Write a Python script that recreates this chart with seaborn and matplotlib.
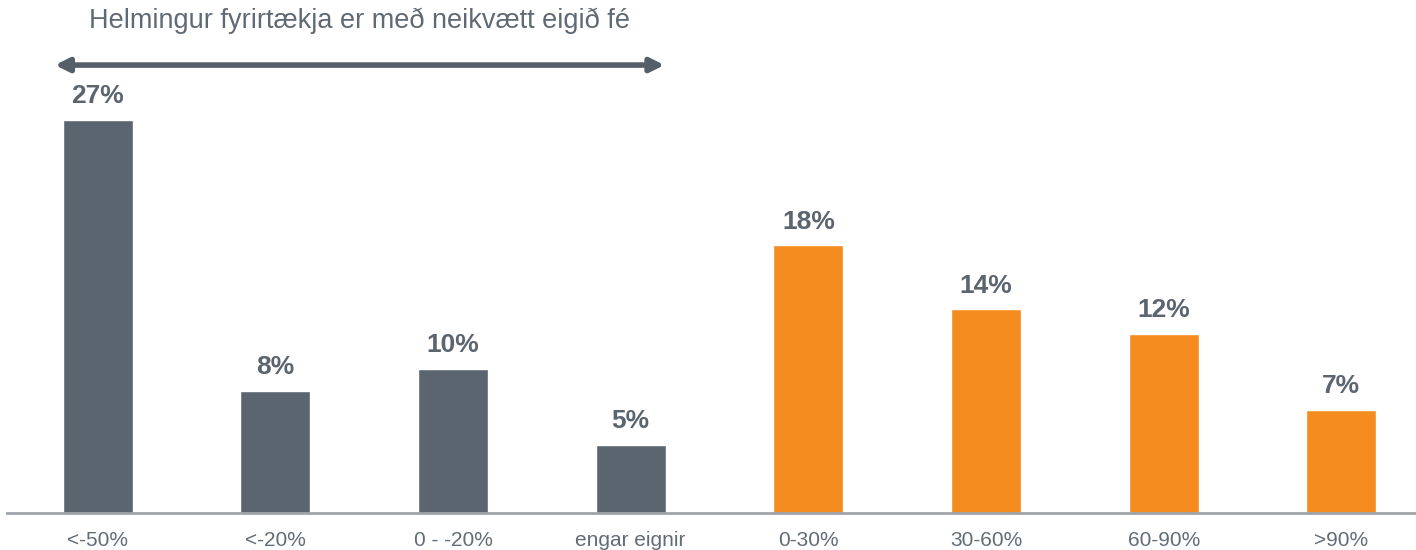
import matplotlib
matplotlib.use("Agg")
import matplotlib.pyplot as plt
import seaborn as sns
import pandas as pd

categories = ["<-50%", "<-20%", "0 - -20%", "engar eignir", "0-30%", "30-60%", "60-90%", ">90%"]
values = [27.0, 8.4, 9.9, 4.7, 18.4, 14.0, 12.3, 7.1]
labels = ["27%", "8%", "10%", "5%", "18%", "14%", "12%", "7%"]
groups = ["neg", "neg", "neg", "neg", "pos", "pos", "pos", "pos"]
title_text = "Helmingur fyrirtækja er með neikvætt eigið fé"

sns.set_theme(style="white")
plt.rcParams["font.family"] = ["Liberation Sans", "DejaVu Sans"]

dark = "#5b6570"
orange = "#f58c1f"
txt = "#5b6570"

df = pd.DataFrame({"cat": categories, "val": values, "grp": groups})

fig = plt.figure(figsize=(14.16, 5.5), dpi=100)
ax = fig.add_axes([7 / 1416, 37 / 550, 1 - 7 / 1416, 1 - 37 / 550])
sns.barplot(data=df, x="cat", y="val", hue="grp", palette={"neg": dark, "pos": orange},
            dodge=False, width=0.394, legend=False, ax=ax, saturation=1)

ax.set_xlim(-0.51, 7.42)
ax.set_ylim(0, 35.25)
ax.set_xlabel("")
ax.set_ylabel("")
ax.set_yticks([])
for s in ["top", "right", "left"]:
    ax.spines[s].set_visible(False)
ax.spines["bottom"].set_color("#a0a4a8")
ax.spines["bottom"].set_linewidth(2)
ax.tick_params(axis="x", length=0, pad=13, labelsize=15, labelcolor="#626c76")

for i, (v, lab) in enumerate(zip(values, labels)):
    ax.annotate(lab, (i, v), xytext=(0, 17), textcoords="offset points",
                ha="center", va="center", fontsize=19, fontweight="bold", color=txt)

ax.annotate("", xy=(-0.24, 30.78), xytext=(3.19, 30.78),
            arrowprops=dict(arrowstyle="<|-|>", color="#555f6a", lw=4,
                            mutation_scale=20, shrinkA=0, shrinkB=0),
            annotation_clip=False)
ax.text(1.475, 33.85, title_text, ha="center", va="center", fontsize=19.5, color="#606a74",
        clip_on=False)

fig.savefig("out.png", dpi=100)
